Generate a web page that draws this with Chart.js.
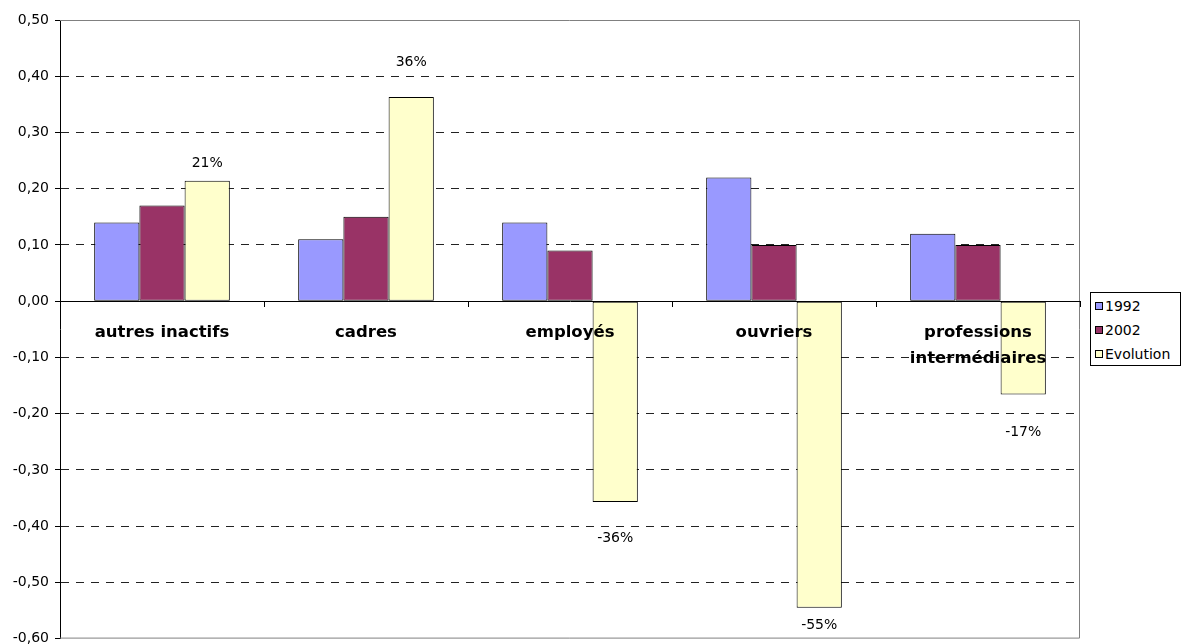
<!DOCTYPE html>
<html>
<head>
<meta charset="utf-8">
<script src="https://cdn.jsdelivr.net/npm/chart.js@4.4.1/dist/chart.umd.min.js"></script>
<style>
  html, body { margin: 0; padding: 0; background: #fff; overflow: hidden; }
  #wrap { position: relative; width: 1182px; height: 644px; overflow: hidden; }
  #legend {
    position: absolute; left: 1090px; top: 292px; width: 91px; height: 74px;
    border: 1px solid #000; box-sizing: border-box; background: #fff;
    font: 14px "DejaVu Sans", sans-serif; color: #000;
  }
  #legend div { position: absolute; left: 4px; height: 18px; line-height: 18px; white-space: nowrap; }
  #legend span {
    display: inline-block; width: 6px; height: 6px; border: 1px solid #000;
    margin-right: 2px; vertical-align: 1px;
  }
</style>
</head>
<body>
<div id="wrap">
  <canvas id="chart" width="1182" height="653"></canvas>
  <div id="legend"></div>
</div>
<script>
const categories = ['autres inactifs', 'cadres', 'employés', 'ouvriers', ['professions', 'intermédiaires']];
const values1992 = [0.14, 0.11, 0.14, 0.22, 0.12];
const values2002 = [0.17, 0.15, 0.09, 0.10, 0.10];
const evolution = [0.214, 0.363, -0.357, -0.545, -0.166];
const seriesNames = ['1992', '2002', 'Evolution'];
const seriesColors = ['#9999FF', '#993366', '#FFFFCC'];

const FONT = '"DejaVu Sans", sans-serif';
// distance from bar end to percent label centre
const labelGap = [17, 35, 36, 18, 38];

// frame of the plot area (top, right, bottom) in grey
const framePlugin = {
    id: 'frame',
    beforeDatasetsDraw(chart) {
        const {ctx, chartArea: a} = chart;
        ctx.save();
        ctx.strokeStyle = '#808080';
        ctx.lineWidth = 1;
        ctx.beginPath();
        ctx.moveTo(a.left, a.top + 0.5);
        ctx.lineTo(a.right - 0.5, a.top + 0.5);
        ctx.lineTo(a.right - 0.5, a.bottom - 0.5);
        ctx.lineTo(a.left, a.bottom - 0.5);
        ctx.stroke();
        ctx.restore();
    }
};

// percent labels on the Evolution bars
const pctPlugin = {
    id: 'pct',
    afterDraw(chart) {
        const {ctx} = chart;
        const meta = chart.getDatasetMeta(2);
        ctx.save();
        ctx.font = '14px ' + FONT;
        ctx.fillStyle = '#000';
        ctx.textAlign = 'center';
        ctx.textBaseline = 'middle';
        meta.data.forEach((bar, i) => {
            const v = evolution[i];
            const txt = Math.round(v * 100) + '%';
            const y = v >= 0 ? bar.y - labelGap[i] : bar.y + labelGap[i];
            ctx.fillText(txt, bar.x, y);
        });
        ctx.restore();
    }
};

const datasets = [values1992, values2002, evolution].map((d, i) => ({
    label: seriesNames[i],
    data: d,
    backgroundColor: seriesColors[i],
    borderColor: '#000',
    borderWidth: 1,
    borderSkipped: false,
    barPercentage: 1,
    categoryPercentage: 0.665
}));

new Chart(document.getElementById('chart'), {
    type: 'bar',
    data: { labels: categories, datasets: datasets },
    options: {
        responsive: false,
        animation: false,
        layout: { padding: { top: 20, right: 102, bottom: -6, left: 0 } },
        plugins: {
            legend: { display: false },
            tooltip: { enabled: false }
        },
        scales: {
            x: {
                position: { y: 0 },
                grid: {
                    offset: true,
                    drawOnChartArea: false,
                    tickLength: 5,
                    tickColor: '#000'
                },
                border: { color: '#000', width: 1, z: 1 },
                ticks: {
                    z: 1,
                    color: '#000',
                    font: { family: FONT, size: 16.5, weight: 'bold', lineHeight: 1.55 },
                    padding: 14,
                    autoSkip: false,
                    maxRotation: 0,
                    minRotation: 0
                }
            },
            y: {
                min: -0.6,
                max: 0.5,
                afterFit(s) { s.width = 60; },
                grid: {
                    color: ctx => {
                        const v = ctx.tick ? Math.round(ctx.tick.value * 100) : 0;
                        return (v === 50 || v === -60 || v === 0) ? 'rgba(0,0,0,0)' : '#222';
                    },
                    tickColor: '#000',
                    tickLength: 5,
                    lineWidth: 1
                },
                border: { color: '#000', width: 1, dash: [8, 7] },
                ticks: {
                    stepSize: 0.1,
                    color: '#000',
                    padding: 6,
                    font: { family: FONT, size: 14 },
                    callback: v => (Math.round(v * 100) / 100).toFixed(2).replace('.', ',')
                }
            }
        }
    },
    plugins: [framePlugin, pctPlugin]
});

const legend = document.getElementById('legend');
seriesNames.forEach((name, i) => {
    const row = document.createElement('div');
    row.style.top = (4 + i * 24) + 'px';
    row.innerHTML = '<span style="background:' + seriesColors[i] + '"></span>' + name;
    legend.appendChild(row);
});
</script>
</body>
</html>
